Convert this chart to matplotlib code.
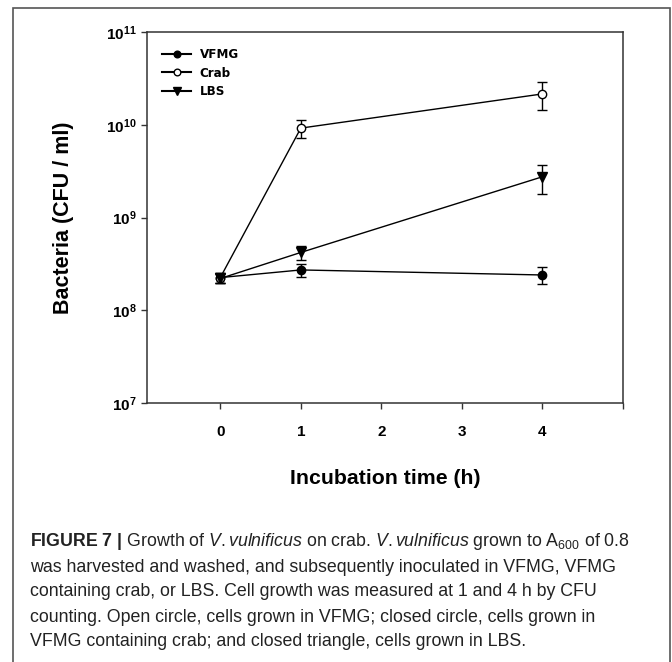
import matplotlib
matplotlib.use("Agg")
import matplotlib.pyplot as plt
from matplotlib.patches import Rectangle
from matplotlib.ticker import NullLocator

plt.rcParams['font.family'] = ['Liberation Sans', 'DejaVu Sans']
plt.rcParams['mathtext.fontset'] = 'custom'
plt.rcParams['mathtext.rm'] = 'Liberation Sans'
plt.rcParams['mathtext.it'] = 'Liberation Sans:italic'
plt.rcParams['mathtext.bf'] = 'Liberation Sans:bold'

# data
time_h = [0, 1, 4]
vfmg = [2.25e8, 2.72e8, 2.4e8]
vfmg_err = [3e7, 4.6e7, 5e7]
crab = [2.25e8, 9.2e9, 2.15e10]
crab_err = [3e7, 2.0e9, 7.2e9]
lbs = [2.2e8, 4.2e8, 2.75e9]
lbs_err = [2.5e7, 7e7, 9.5e8]

y_ticks = [1e7, 1e8, 1e9, 1e10, 1e11]
y_ticklabels = [r'$\mathbf{10^{7}}$', r'$\mathbf{10^{8}}$', r'$\mathbf{10^{9}}$',
                r'$\mathbf{10^{10}}$', r'$\mathbf{10^{11}}$']
x_ticks = [0, 1, 2, 3, 4, 5]
x_ticklabels = ['0', '1', '2', '3', '4', '']

W, H = 672, 662
fig = plt.figure(figsize=(W / 100, H / 100), dpi=100)
ax = fig.add_axes([147 / W, 1 - 403 / H, 476 / W, 371 / H])

lw = 1.0
ms = 6
for y, e in [(vfmg, vfmg_err), (crab, crab_err), (lbs, lbs_err)]:
    ax.errorbar(time_h, y, yerr=e, fmt='none', ecolor='black', elinewidth=lw,
                capsize=3.5, capthick=lw, zorder=2)

ax.plot(time_h, vfmg, color='black', lw=lw, marker='o', ms=ms,
        mfc='black', mec='black', label='VFMG', zorder=3)
ax.plot(time_h, crab, color='black', lw=lw, marker='o', ms=ms,
        mfc='white', mec='black', mew=1.0, label='Crab', zorder=3)
ax.plot(time_h, lbs, color='black', lw=lw, marker='v', ms=ms + 0.5,
        mfc='black', mec='black', label='LBS', zorder=3)

ax.set_yscale('log')
ax.set_ylim(1e7, 1e11)
ax.set_xlim(-0.91, 5)
ax.set_yticks(y_ticks)
ax.set_yticklabels(y_ticklabels)
ax.yaxis.set_minor_locator(NullLocator())
ax.set_xticks(x_ticks)
ax.set_xticklabels(x_ticklabels, fontweight='bold')

for s in ax.spines.values():
    s.set_linewidth(1.1)
    s.set_color('#333333')
ax.tick_params(axis='y', direction='out', length=4, width=1.0, color='#333333',
               pad=3.5, labelsize=11)
ax.tick_params(axis='x', direction='out', length=4, width=1.0, color='#333333',
               pad=12, labelsize=11)

leg = ax.legend(loc='upper left', bbox_to_anchor=(0.0315, 0.956), frameon=False,
                borderpad=0, borderaxespad=0, handlelength=2.2, handletextpad=0.65,
                labelspacing=0.42, numpoints=1, markerscale=0.8,
                prop={'family': 'DejaVu Sans', 'stretch': 'condensed',
                      'weight': 'bold', 'size': 9.5})
for h in leg.get_lines():
    h.set_linewidth(1.5)

fig.text(63 / W, 1 - 217.5 / H, 'Bacteria (CFU / ml)', rotation=90, ha='center',
         va='center', fontsize=15.5, fontweight='bold')
fig.text(385 / W, 1 - 479 / H, 'Incubation time (h)', ha='center', va='center',
         fontsize=15.3, fontweight='bold')

caption = [
    r'$\mathbf{FIGURE}$ $\mathbf{7}$ $\mathbf{|}$ Growth of $\mathit{V.}$'
    r'$\mathit{vulnificus}$ on crab. $\mathit{V.}$$\mathit{vulnificus}$ grown to '
    r'A$_{600}$ of 0.8',
    'was harvested and washed, and subsequently inoculated in VFMG, VFMG',
    'containing crab, or LBS. Cell growth was measured at 1 and 4 h by CFU',
    'counting. Open circle, cells grown in VFMG; closed circle, cells grown in',
    'VFMG containing crab; and closed triangle, cells grown in LBS.',
]
for i, line in enumerate(caption):
    fig.text(30 / W, 1 - (542 + 25 * i) / H, line, ha='left', va='center',
             fontsize=12.8, color='#222222')

border = Rectangle((13 / W, -0.05), (670 - 13) / W, 1.05 - 8 / H,
                   transform=fig.transFigure, fill=False, edgecolor='#555555',
                   lw=1.2)
fig.add_artist(border)

fig.savefig('out.png', dpi=100)
